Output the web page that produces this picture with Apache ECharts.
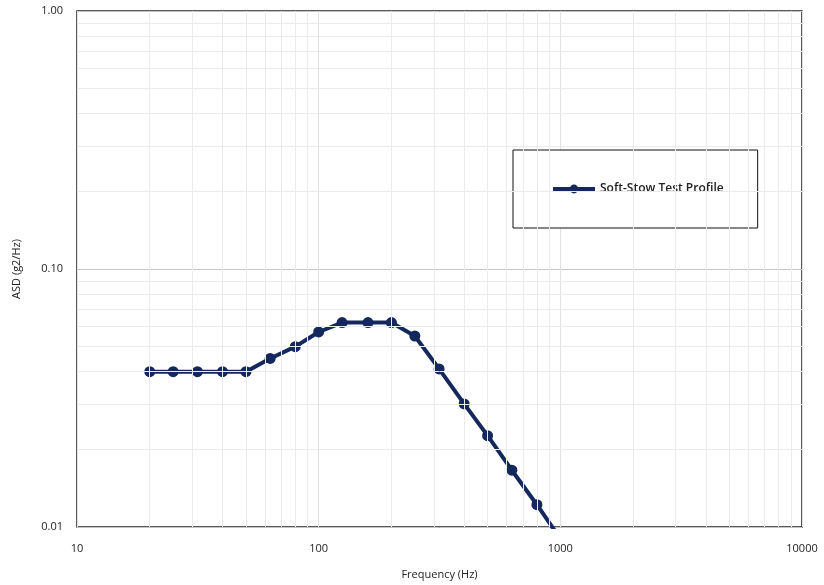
<!DOCTYPE html>
<html>
<head>
<meta charset="utf-8">
<script src="https://cdn.jsdelivr.net/npm/echarts@6/dist/echarts.min.js"></script>
<style>
html,body{margin:0;padding:0;background:#fff;}
#chart{width:824px;height:585px;}
</style>
</head>
<body>
<div id="chart"></div>
<script>
const frequencies = [20, 25, 31.5, 40, 50, 63, 80, 100, 125, 160, 200, 250, 315, 400, 500, 630, 800, 1000];
const asdValues   = [0.040, 0.040, 0.040, 0.040, 0.040, 0.045, 0.050, 0.057, 0.062, 0.062, 0.062, 0.055, 0.041, 0.030, 0.0226, 0.0166, 0.0122, 0.0090];
const seriesName = 'Soft-Stow Test Profile';
const xMinorGrid = [20,30,40,50,60,70,80,90,200,300,400,500,600,700,800,900,2000,3000,4000,5000,6000,7000,8000,9000];
const yMinorGrid = [0.02,0.03,0.04,0.05,0.06,0.07,0.08,0.09,0.2,0.3,0.4,0.5,0.6,0.7,0.8,0.9];

const FONT = '"Open Sans", "Liberation Sans", sans-serif';
const chart = echarts.init(document.getElementById('chart'));

const gridMarks = xMinorGrid.map(v => ({xAxis: v})).concat(yMinorGrid.map(v => ({yAxis: v})));

chart.setOption({
  animation: false,
  backgroundColor: '#fff',
  grid: {left: 77, top: 11, right: 22, bottom: 51, show: true, borderColor: '#222', borderWidth: 1.5, backgroundColor: 'transparent'},
  legend: {
    data: [seriesName],
    left: 513, top: 150,
    padding: [33, 34, 33, 38],
    backgroundColor: '#fff',
    borderColor: '#111', borderWidth: 1,
    itemWidth: 42, itemHeight: 11, itemGap: 4,
    lineStyle: {width: 4},
    textStyle: {fontFamily: FONT, fontSize: 12, fontWeight: 600, color: '#222'}
  },
  xAxis: {
    type: 'log', logBase: 10, min: 10, max: 10000,
    name: 'Frequency (Hz)', nameLocation: 'middle', nameGap: 42,
    nameTextStyle: {fontFamily: FONT, fontSize: 11, color: '#222'},
    axisLine: {show: false}, axisTick: {show: false},
    axisLabel: {fontFamily: FONT, fontSize: 11, color: '#222', margin: 16, formatter: v => String(Math.round(v))},
    splitLine: {show: true, lineStyle: {color: '#e2e2e2', width: 1}}
  },
  yAxis: {
    type: 'log', logBase: 10, min: 0.01, max: 1,
    name: 'ASD (g2/Hz)', nameLocation: 'middle', nameGap: 55, nameRotate: 90,
    nameTextStyle: {fontFamily: FONT, fontSize: 11, color: '#222'},
    axisLine: {show: false}, axisTick: {show: false},
    axisLabel: {fontFamily: FONT, fontSize: 11, color: '#222', margin: 14, formatter: v => Number(v).toFixed(2)},
    splitLine: {show: true, lineStyle: {color: '#c4c4c4', width: 1}}
  },
  series: [
    {
      type: 'line', name: '_grid', data: [], z: 1, silent: true,
      markLine: {
        silent: true, symbol: ['none', 'none'], animation: false,
        label: {show: false},
        lineStyle: {color: '#ebebeb', width: 1, type: 'solid'},
        emphasis: {disabled: true},
        data: gridMarks
      }
    },
    {
      type: 'line', name: seriesName, z: 3,
      data: frequencies.map((f, i) => [f, asdValues[i]]),
      symbol: 'circle', symbolSize: 11,
      lineStyle: {color: '#14285e', width: 4},
      itemStyle: {color: '#14285e', borderWidth: 0},
      clip: true
    }
  ]
});
</script>
</body>
</html>
